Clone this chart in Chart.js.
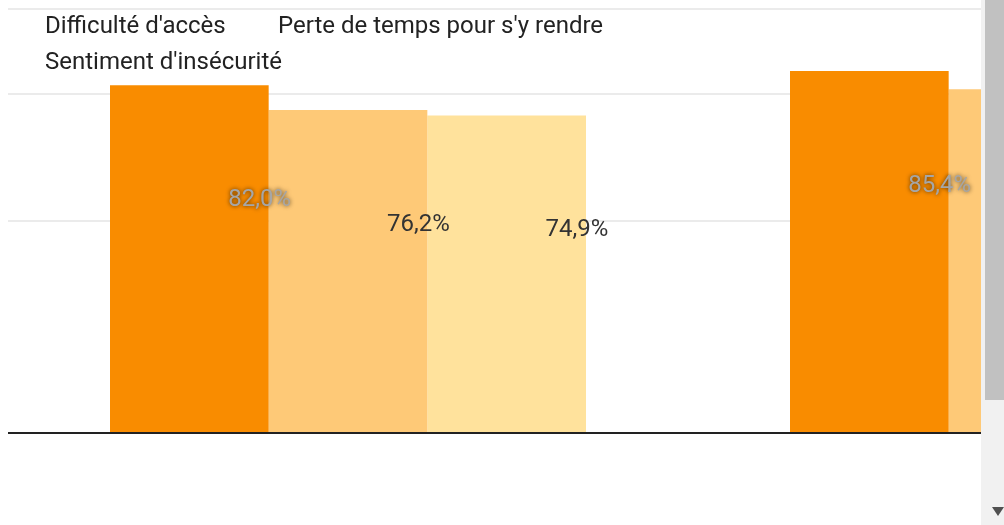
<!DOCTYPE html>
<html>
<head>
<meta charset="utf-8">
<script src="https://cdn.jsdelivr.net/npm/chart.js@4/dist/chart.umd.min.js"></script>
<style>
html,body{margin:0;padding:0;background:#fff;overflow:hidden}
#wrap{position:absolute;left:0;top:0;width:981px;height:525px;overflow:hidden;background:#fff}
#chart{position:absolute;left:0;top:0}
.leg{position:absolute;font-family:Roboto,sans-serif;font-size:24px;line-height:28px;color:#222;white-space:nowrap}
#track{position:absolute;left:981px;top:0;width:23px;height:525px;background:#f1f1f1}
#thumb{position:absolute;left:985px;top:0;width:19px;height:400px;background:#c1c1c1}
#arrow{position:absolute;left:992px;top:507px;width:0;height:0;border-left:6px solid transparent;border-right:6px solid transparent;border-top:9px solid #505050}
</style>
</head>
<body>
<div id="wrap">
<canvas id="chart" width="1400" height="525"></canvas>
<div id="legend"></div>
</div>
<div id="track"></div>
<div id="thumb"></div>
<div id="arrow"></div>
<script>
// categories and series
const categories=['Groupe 1','Groupe 2'];
const seriesNames=["Difficulté d'accès","Perte de temps pour s'y rendre","Sentiment d'insécurité"];
const acces=[82.0,85.4];
const temps=[76.2,81.1];
const insecurite=[74.9,80.0];
const colors=['#f98c00','#fec977','#ffe29c'];
const yTicks=[0,50,80,100];

// html legend, laid out like the original
const legPos=[[45,11],[278,11],[45,47]];
const legend=document.getElementById('legend');
seriesNames.forEach((n,i)=>{
const d=document.createElement('div');
d.className='leg';
d.textContent=n;
d.style.left=legPos[i][0]+'px';
d.style.top=legPos[i][1]+'px';
legend.appendChild(d);
});

const valueLabels={
id:'valueLabels',
afterDatasetsDraw(chart){
const c=chart.ctx;
c.save();
c.font='24px Roboto';
c.textAlign='center';
c.textBaseline='middle';
chart.data.datasets.forEach((ds,i)=>{
chart.getDatasetMeta(i).data.forEach((bar,j)=>{
const txt=ds.data[j].toFixed(1).replace('.',',')+'%';
const x=bar.x+bar.width/2-9;
const y=bar.y+115;
if(i===0){
c.shadowColor='rgba(0,0,0,0.7)';
c.shadowBlur=4;
c.fillStyle='#a6a6a6';
}else{
c.shadowColor='transparent';
c.shadowBlur=0;
c.fillStyle='#333';
}
c.fillText(txt,x,y);
});
});
c.restore();
}
};

const ctx=document.getElementById('chart');
const chart=new Chart(ctx,{
type:'bar',
data:{labels:categories,datasets:[
{label:seriesNames[0],data:acces,backgroundColor:colors[0]},
{label:seriesNames[1],data:temps,backgroundColor:colors[1]},
{label:seriesNames[2],data:insecurite,backgroundColor:colors[2]}
]},
options:{
responsive:false,
animation:false,
devicePixelRatio:1,
layout:{padding:{left:8,right:32,top:9,bottom:92}},
datasets:{bar:{categoryPercentage:0.7,barPercentage:1,borderWidth:0}},
plugins:{legend:{display:false},tooltip:{enabled:false}},
scales:{
x:{display:false},
y:{
min:0,max:100,
afterBuildTicks:a=>{a.ticks=yTicks.map(v=>({value:v}));},
ticks:{display:false},
border:{display:false},
grid:{drawTicks:false,lineWidth:2,color:c=>c.tick&&c.tick.value===0?'#222':'#ebebeb'}
}
}
},
plugins:[valueLabels]
});
</script>
</body>
</html>
